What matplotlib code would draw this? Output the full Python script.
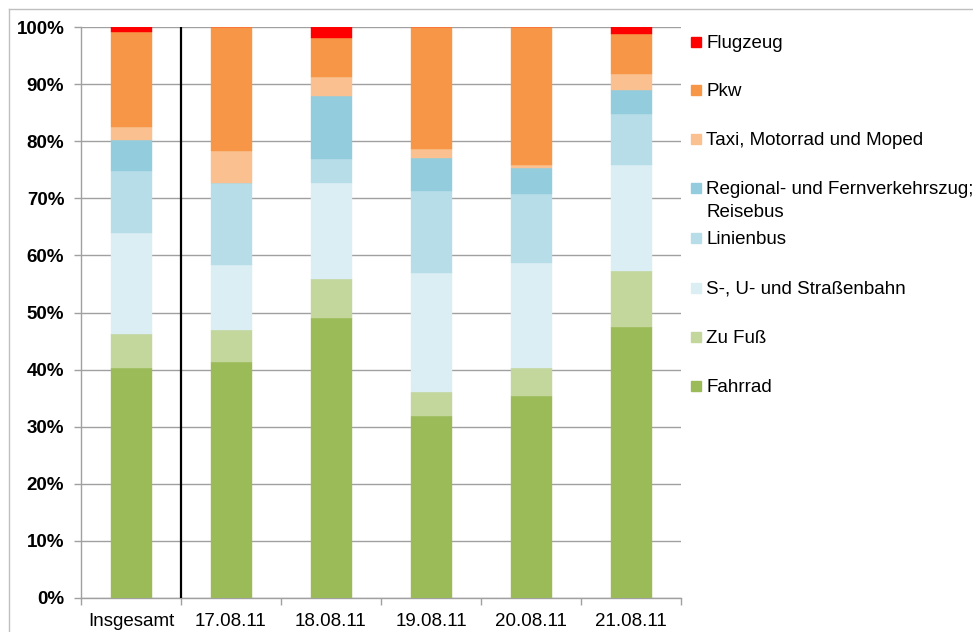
import matplotlib.pyplot as plt
import numpy as np
from matplotlib.patches import Rectangle
from matplotlib.lines import Line2D

plt.rcParams['font.family'] = ['Liberation Sans', 'DejaVu Sans']

categories = ["Insgesamt", "17.08.11", "18.08.11", "19.08.11", "20.08.11", "21.08.11"]

# shares in percent, bottom to top
fahrrad   = [40.2, 41.3, 49.0, 31.8, 35.4, 47.4]
zu_fuss   = [6.1, 5.7, 6.8, 4.2, 4.9, 9.8]
s_u_bahn  = [17.7, 11.3, 16.8, 20.9, 18.4, 18.7]
linienbus = [10.8, 14.3, 4.3, 14.3, 12.1, 8.9]
regional  = [5.4, 0.0, 11.0, 5.9, 4.5, 4.1]
taxi      = [2.3, 5.7, 3.4, 1.6, 0.6, 2.9]
pkw       = [16.7, 21.7, 6.7, 21.3, 24.1, 6.9]
flugzeug  = [0.8, 0.0, 2.0, 0.0, 0.0, 1.3]

series = [
    ("Fahrrad", fahrrad, "#9BBB59"),
    ("Zu Fuß", zu_fuss, "#C3D69B"),
    ("S-, U- und Straßenbahn", s_u_bahn, "#DBEEF4"),
    ("Linienbus", linienbus, "#B7DEE8"),
    ("Regional- und Fernverkehrszug;\nReisebus", regional, "#93CDDD"),
    ("Taxi, Motorrad und Moped", taxi, "#FAC090"),
    ("Pkw", pkw, "#F79646"),
    ("Flugzeug", flugzeug, "#FF0000"),
]

fs = 13.5
fig = plt.figure(figsize=(9.73, 6.32), dpi=100)
ax = fig.add_axes([81/973, 1 - 598/632, 600/973, 571/632])

x = np.arange(len(categories))
bottom = np.zeros(len(categories))
for name, vals, col in series:
    vals = np.array(vals)
    ax.bar(x, vals, 0.41, bottom=bottom, color=col, edgecolor=col,
           linewidth=0.3, zorder=3)
    bottom += vals

ax.set_xlim(-0.5, len(categories) - 0.5)
ax.set_ylim(0, 100)
ax.set_yticks(np.arange(0, 101, 10))
ax.set_yticklabels([f"{v}%" for v in range(0, 101, 10)], fontweight="bold", fontsize=fs)
ax.set_xticks(x)
ax.set_xticklabels(categories, fontsize=fs)
ax.set_xticks(np.arange(-0.5, len(categories), 1), minor=True)
ax.tick_params(axis="x", which="major", length=0, pad=11)
ax.tick_params(axis="x", which="minor", length=5, color="#A0A0A0", width=1)
ax.tick_params(axis="y", length=5, color="#A0A0A0", width=1, pad=7)
ax.grid(axis="y", color="#A0A0A0", linewidth=1, zorder=0)
for s in ("top", "right"):
    ax.spines[s].set_visible(False)
for s in ("left", "bottom"):
    ax.spines[s].set_color("#A0A0A0")
    ax.spines[s].set_linewidth(1)

# separator between total and days
ax.axvline(0.5, color="black", linewidth=1.6, zorder=4)

# legend, top to bottom
leg_y = [42, 90, 139, 188, 238, 288, 337, 386]
for (name, vals, col), yy in zip(series[::-1], leg_y):
    fig.patches.append(Rectangle((691/973, 1 - (yy + 5)/632), 10/973, 10/632,
                                 transform=fig.transFigure, color=col))
    fig.text(706/973, 1 - (yy - 7)/632, name, fontsize=fs, va="top", ha="left",
             linespacing=1.45)

# outer frame, top and left
fig.add_artist(Line2D([9/973, 9/973], [0, 1 - 9/632], transform=fig.transFigure,
                      color="#BFBFBF", linewidth=1))
fig.add_artist(Line2D([9/973, 1], [1 - 9/632, 1 - 9/632], transform=fig.transFigure,
                      color="#BFBFBF", linewidth=1))

fig.savefig("out.png", dpi=100)
